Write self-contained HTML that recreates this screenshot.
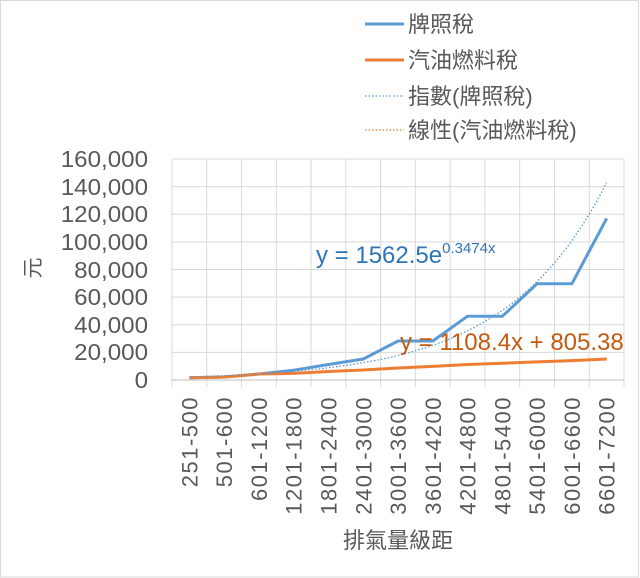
<!DOCTYPE html><html><head><style>
body{margin:0;background:#fff}
svg{display:block;font-family:"Liberation Sans","Noto Sans CJK TC",sans-serif}
</style></head><body>
<svg width="640" height="578" viewBox="0 0 640 578">
<rect x="0.5" y="0.5" width="638" height="576.5" fill="#fff" stroke="#d9d9d9"/>
<g stroke="#d9d9d9" stroke-width="1">
<line x1="172" y1="159" x2="624" y2="159"/><line x1="172" y1="186.6" x2="624" y2="186.6"/>
<line x1="172" y1="214.3" x2="624" y2="214.3"/><line x1="172" y1="241.9" x2="624" y2="241.9"/>
<line x1="172" y1="269.5" x2="624" y2="269.5"/><line x1="172" y1="297.1" x2="624" y2="297.1"/>
<line x1="172" y1="324.8" x2="624" y2="324.8"/><line x1="172" y1="352.4" x2="624" y2="352.4"/>
<g id="v"></g>
</g>
<line x1="172" y1="380" x2="624" y2="380" stroke="#bfbfbf"/>
<g fill="#595959" font-size="23" text-anchor="end" transform="scale(1.05,1)">
<text x="141" y="167">160,000</text><text x="141" y="195">140,000</text><text x="141" y="222">120,000</text>
<text x="141" y="250">100,000</text><text x="141" y="278">80,000</text><text x="141" y="305">60,000</text>
<text x="141" y="333">40,000</text><text x="141" y="360">20,000</text><text x="141" y="388">0</text>
</g>
<text transform="translate(40,268) rotate(-90)" fill="#595959" font-size="21" text-anchor="middle">元</text>
<g id="xl" fill="#595959" font-size="22" letter-spacing="1.5"></g>
<text x="398" y="548" fill="#595959" font-size="22" text-anchor="middle">排氣量級距</text>
<polyline fill="none" stroke="#5B9BD5" stroke-width="3" stroke-linejoin="round" points="189.4,377.8 224.2,377 259,374 293.7,370.2 328.5,364.5 363.3,359 398.1,341 432.8,341 467.6,316.2 502.4,316.2 537.2,283.7 571.9,283.7 606.7,218.4"/>
<polyline fill="none" stroke="#ED7D31" stroke-width="3" stroke-linejoin="round" points="189.4,377.8 224.2,377 259,374 293.7,373.4 328.5,371.5 363.3,370 398.1,368 432.8,366.4 467.6,364.5 502.4,363.2 537.2,361.9 571.9,360.6 606.7,359"/>
<polyline id="ex" fill="none" stroke="#5B9BD5" stroke-width="1.3" stroke-dasharray="1.5,2"/>
<text x="316" y="263" fill="#2E75B6" font-size="24">y = 1562.5e<tspan font-size="15" dy="-10">0.3474x</tspan></text>
<text x="400" y="350" fill="#C55A11" font-size="24">y = 1108.4x + 805.38</text>
<g font-size="22" fill="#595959">
<line x1="365" y1="24" x2="404" y2="24" stroke="#5B9BD5" stroke-width="3"/><text x="408" y="32">牌照稅</text>
<line x1="365" y1="60" x2="404" y2="60" stroke="#ED7D31" stroke-width="3"/><text x="408" y="68">汽油燃料稅</text>
<line x1="365" y1="96" x2="404" y2="96" stroke="#5B9BD5" stroke-width="1.3" stroke-dasharray="1.5,2"/><text x="408" y="104">指數(牌照稅)</text>
<line x1="365" y1="130" x2="404" y2="130" stroke="#ED7D31" stroke-width="1.3" stroke-dasharray="1.5,2"/><text x="408" y="138">線性(汽油燃料稅)</text>
</g>
</svg>
<script>
var ns="http://www.w3.org/2000/svg",v=document.getElementById("v"),xl=document.getElementById("xl");
var labs=["251-500","501-600","601-1200","1201-1800","1801-2400","2401-3000","3001-3600","3601-4200","4201-4800","4801-5400","5401-6000","6001-6600","6601-7200"];
for(var i=0;i<=13;i++){var x=172+i*452/13;var l=document.createElementNS(ns,"line");l.setAttribute("x1",x);l.setAttribute("x2",x);l.setAttribute("y1",159);l.setAttribute("y2",387);v.appendChild(l);}
labs.forEach(function(s,i){var x=189.4+i*34.77+8;var t=document.createElementNS(ns,"text");t.setAttribute("transform","translate("+x+",396) rotate(-90)");t.setAttribute("text-anchor","end");t.textContent=s;xl.appendChild(t);});
var pts=[];for(var k=1;k<=13;k+=0.1){var val=1562.5*Math.exp(0.3474*k);pts.push((189.4+(k-1)*34.77).toFixed(1)+","+(380-val/160000*221).toFixed(1));}
document.getElementById("ex").setAttribute("points",pts.join(" "));
</script>
</body></html>
